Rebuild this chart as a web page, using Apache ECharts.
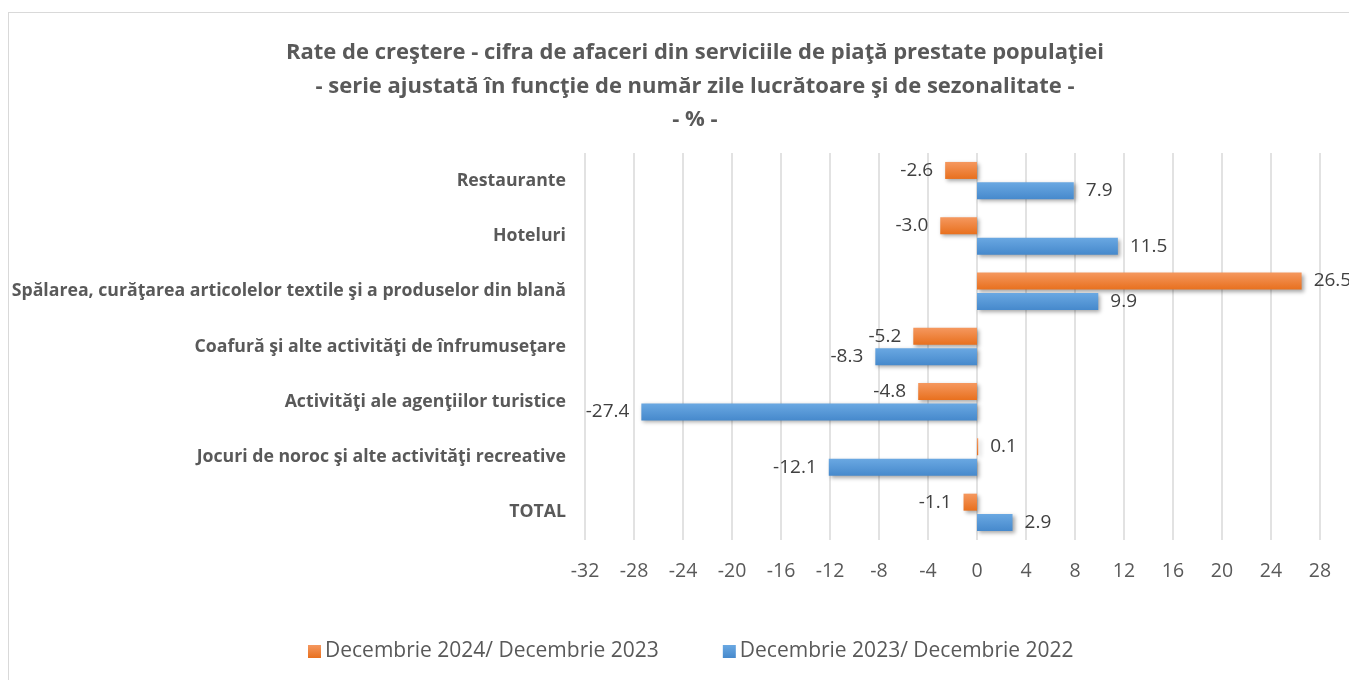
<!DOCTYPE html>
<html>
<head>
<meta charset="utf-8">
<script src="https://cdn.jsdelivr.net/npm/echarts@6/dist/echarts.min.js"></script>
<style>
  html, body { margin: 0; padding: 0; overflow: hidden; background: #fff; }
  #frame { position: absolute; left: 8px; top: 12px; width: 1420px; height: 700px; border: 1px solid #d9d9d9; }
  #main { position: absolute; left: 0; top: 0; width: 1400px; height: 680px; }
</style>
</head>
<body>
<div id="frame"></div>
<div id="main"></div>
<script>
// categorii (de sus in jos)
const categories = [
  'Restaurante',
  'Hoteluri',
  'Spălarea, curăţarea articolelor textile şi a produselor din blană',
  'Coafură şi alte activităţi de înfrumuseţare',
  'Activităţi ale agenţiilor turistice',
  'Jocuri de noroc şi alte activităţi recreative',
  'TOTAL'
];
const series2024 = [-2.6, -3.0, 26.5, -5.2, -4.8, 0.1, -1.1];
const series2023 = [7.9, 11.5, 9.9, -8.3, -27.4, -12.1, 2.9];
const seriesNames = ['Decembrie 2024/ Decembrie 2023', 'Decembrie 2023/ Decembrie 2022'];

const FONT = 'Open Sans';

function withLabels(arr) {
  return arr.map((v) => {
    return { value: v, label: { position: v < 0 ? 'left' : 'right' } };
  });
}

function grad(top, bottom) {
  return new echarts.graphic.LinearGradient(0, 0, 0, 1, [
    { offset: 0, color: top },
    { offset: 1, color: bottom }
  ]);
}

const barStyle = {
  shadowBlur: 4,
  shadowColor: 'rgba(0,0,0,0.35)',
  shadowOffsetX: 2,
  shadowOffsetY: 2
};

const chart = echarts.init(document.getElementById('main'));
chart.setOption({
  animation: false,
  textStyle: { fontFamily: FONT },
  title: {
    text: 'Rate de creştere - cifra de afaceri din serviciile de piaţă prestate populaţiei\n- serie ajustată în funcţie de număr zile lucrătoare şi de sezonalitate -\n- % -',
    left: 690,
    textAlign: 'center',
    top: 31,
    textStyle: {
      fontFamily: FONT,
      fontSize: 22,
      fontWeight: 'bold',
      color: '#595959',
      lineHeight: 33.5
    }
  },
  legend: {
    top: 636,
    left: 303,
    orient: 'horizontal',
    icon: 'rect',
    itemWidth: 13,
    itemHeight: 13,
    itemGap: 64,
    textStyle: { fontFamily: FONT, fontSize: 21, color: '#595959', padding: [0, 0, 0, -1] },
    data: seriesNames
  },
  grid: { left: 585, right: 31, top: 153, bottom: 140 },
  xAxis: {
    type: 'value',
    min: -32,
    max: 32,
    interval: 4,
    axisLine: { show: false },
    axisTick: { show: false },
    splitLine: { lineStyle: { color: '#d9d9d9', width: 1.5 } },
    axisLabel: { fontFamily: FONT, fontSize: 19.5, color: '#595959', margin: 21 }
  },
  yAxis: {
    type: 'category',
    inverse: true,
    data: categories,
    axisLine: { show: false },
    axisTick: { show: false },
    axisLabel: { fontFamily: FONT, fontSize: 17.7, fontWeight: 'bold', color: '#595959', margin: 19 }
  },
  series: [
    {
      name: seriesNames[0],
      type: 'bar',
      barWidth: 17,
      barGap: '20%',
      data: withLabels(series2024),
      itemStyle: Object.assign({ color: grad('#f5985f', '#e8701e') }, barStyle),
      label: {
        show: true,
        distance: 12,
        fontFamily: FONT,
        fontSize: 19,
        color: '#404040',
        formatter: (p) => p.value.toFixed(1)
      }
    },
    {
      name: seriesNames[1],
      type: 'bar',
      barWidth: 17,
      barGap: '20%',
      data: withLabels(series2023),
      itemStyle: Object.assign({ color: grad('#6aa8e2', '#4689cc') }, barStyle),
      label: {
        show: true,
        distance: 12,
        fontFamily: FONT,
        fontSize: 19,
        color: '#404040',
        formatter: (p) => p.value.toFixed(1)
      }
    }
  ]
});
</script>
</body>
</html>
